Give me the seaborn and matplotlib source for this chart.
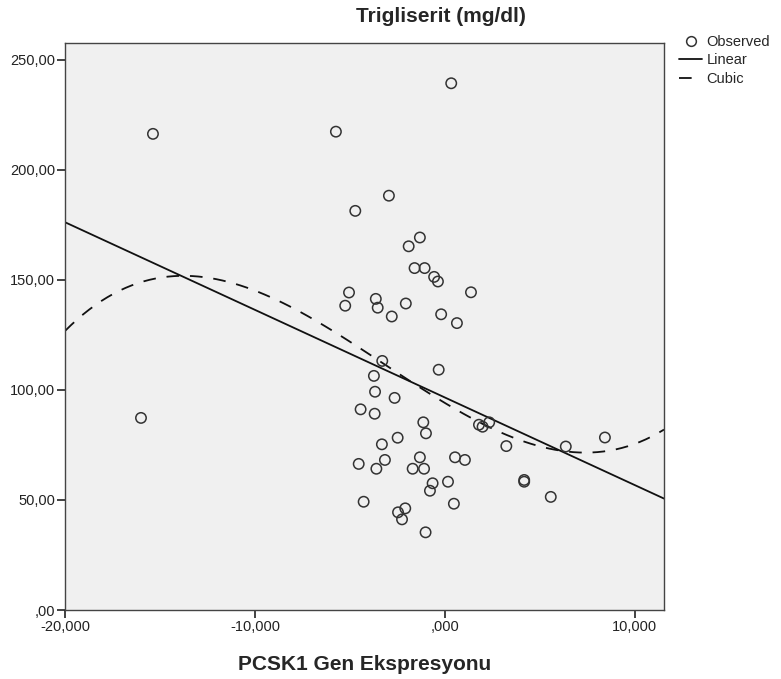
import numpy as np
import pandas as pd
import matplotlib
matplotlib.use("Agg")
import matplotlib.pyplot as plt
from matplotlib.lines import Line2D
from matplotlib.ticker import FuncFormatter
import seaborn as sns

# data
pcsk1 = [-15.37, -16.0, 0.33, -5.74, -2.95, -4.72, -1.32, -1.91, -1.60, -1.07,
         -0.57, -0.37, 1.37, -5.05, -5.25, -3.64, -3.54, -2.06, -2.80, -0.20,
         0.63, -3.30, -0.33, -3.74, -3.68, -2.65, -4.44, -3.70, -1.14, -1.00,
         1.79, 1.98, 2.33, 3.23, -3.32, -2.49, -4.54, -3.16, -3.61, -1.32,
         -1.70, -1.10, 0.53, 1.05, -0.65, -0.79, 0.16, 0.47, 4.17, 4.17,
         -4.28, -2.09, -2.47, -2.26, -1.02, 5.57, 6.36, 8.42]
trig = [216.4, 87.3, 239.4, 217.4, 188.3, 181.4, 169.3, 165.3, 155.4, 155.4,
        151.4, 149.3, 144.4, 144.3, 138.3, 141.4, 137.4, 139.3, 133.4, 134.4,
        130.4, 113.2, 109.2, 106.4, 99.2, 96.4, 91.2, 89.2, 85.3, 80.3,
        84.2, 83.3, 85.3, 74.5, 75.3, 78.3, 66.4, 68.2, 64.2, 69.4,
        64.2, 64.2, 69.4, 68.2, 57.6, 54.2, 58.3, 48.3, 59.1, 58.3,
        49.2, 46.2, 44.4, 41.2, 35.3, 51.4, 74.3, 78.4]
x_ticks = [-20, -10, 0, 10]
y_ticks = [0, 50, 100, 150, 200, 250]
legend_labels = ["Observed", "Linear", "Cubic"]

df = pd.DataFrame({"x": pcsk1, "y": trig})

sns.set_style("white")
plt.rcParams["font.family"] = ["Liberation Sans", "DejaVu Sans"]

fig = plt.figure(figsize=(7.81, 6.79), dpi=100)
ax = fig.add_axes([65 / 781, 1 - 610 / 679, (664 - 65) / 781, (610 - 43) / 679])
ax.set_facecolor("#f0f0f0")
ax.set_xlim(-20, 11.53)
ax.set_ylim(0, 257.7)

sns.regplot(data=df, x="x", y="y", ax=ax, ci=None, truncate=False, scatter=False,
            line_kws=dict(color="#111111", lw=1.3))
sns.regplot(data=df, x="x", y="y", ax=ax, ci=None, truncate=False, scatter=False, order=3,
            line_kws=dict(color="#111111", lw=1.3, ls=(0, (7, 6))))
sns.scatterplot(data=df, x="x", y="y", ax=ax, s=56, marker="o", facecolor="none",
                edgecolor="#333333", linewidth=1.1, zorder=3)

ax.set_xlim(-20, 11.53)
ax.set_ylim(0, 257.7)
ax.set_xticks(x_ticks)
ax.set_yticks(y_ticks)

def fmt(v, dec):
    s = f"{abs(v):.{dec}f}".replace(".", ",")
    if s.startswith("0,"):
        s = s[1:]
    return ("-" if v < 0 else "") + s

ax.xaxis.set_major_formatter(FuncFormatter(lambda v, p: fmt(v, 3)))
ax.yaxis.set_major_formatter(FuncFormatter(lambda v, p: fmt(v, 2)))
ax.tick_params(axis="both", direction="out", length=6, width=1.2, color="#222222",
               labelsize=10.5, labelcolor="#222222", bottom=True, left=True, pad=1)
for sp in ax.spines.values():
    sp.set_color("#444444")
    sp.set_linewidth(1.0)

ax.set_ylabel("")
ax.set_xlabel("PCSK1 Gen Ekspresyonu", fontsize=15, fontweight="bold")
ax.xaxis.label.set_va("baseline")
ax.xaxis.set_label_coords((365 - 65) / 599, (610 - 670) / 567)

fig.text(441 / 781, 1 - 22 / 679, "Trigliserit (mg/dl)", fontsize=15, fontweight="bold",
         ha="center", va="baseline")

handles = [Line2D([], [], ls="none", marker="o", markerfacecolor="none",
                  markeredgecolor="#333333", markeredgewidth=1.1, markersize=7),
           Line2D([], [], color="#111111", lw=1.3),
           Line2D([], [], color="#111111", lw=1.3, ls=(0, (7, 6)))]
fig.legend(handles, legend_labels, loc="upper left", bbox_to_anchor=(679 / 781, 1 - 35 / 679),
           frameon=False, fontsize=10.5, handlelength=1.6, handletextpad=0.3,
           labelspacing=0.3, borderaxespad=0, borderpad=0)

fig.savefig("out.png", dpi=100)
